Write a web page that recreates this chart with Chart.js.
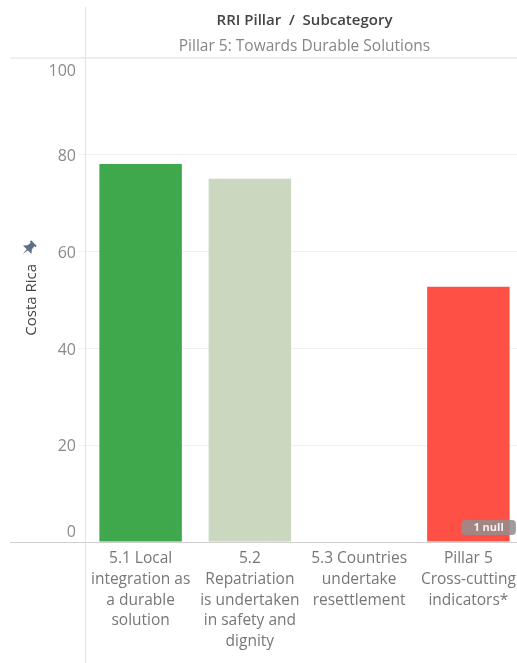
<!DOCTYPE html>
<html>
<head>
<meta charset="utf-8">
<script src="https://cdn.jsdelivr.net/npm/chart.js@4"></script>
<style>
  html, body { margin: 0; padding: 0; background: #fff; overflow: hidden; width: 517px; height: 663px; }
  #wrap { width: 517px; height: 663px; overflow: hidden; }
  canvas { display: block; }
</style>
</head>
<body>
<div id="wrap"><canvas id="chart" width="523" height="663" style="width:523px;height:663px"></canvas></div>
<script>
const FONT = '"Open Sans", sans-serif';

// Data
const categories = [
  ['5.1 Local', 'integration as', 'a durable', 'solution'],
  ['5.2', 'Repatriation', 'is undertaken', 'in safety and', 'dignity'],
  ['5.3 Countries', 'undertake', 'resettlement'],
  ['Pillar 5', 'Cross-cutting', 'indicators*']
];
const scores = [78, 75, null, 52.7];
const barColors = ['#3fa84c', '#cbd8c0', '#cccccc', '#ff5045'];
const yTicks = [0, 20, 40, 60, 80, 100];
const headerTitle = 'RRI Pillar  /  Subcategory';
const headerSubtitle = 'Pillar 5: Towards Durable Solutions';
const rowTitle = 'Costa Rica';
const nullNote = '1 null';

// Header text, frame rules, pin icon and the null badge
const decorations = {
  id: 'decorations',
  beforeDatasetsDraw(chart) {
    const { ctx, chartArea: a, width, height } = chart;
    ctx.save();
    ctx.lineWidth = 1;
    ctx.strokeStyle = '#e2e2e2';
    ctx.beginPath();
    ctx.moveTo(a.left - 0.5, 7);
    ctx.lineTo(a.left - 0.5, height);
    ctx.moveTo(10, a.top + 0.5);
    ctx.lineTo(width, a.top + 0.5);
    ctx.stroke();
    ctx.restore();
  },
  afterDatasetsDraw(chart) {
    const { ctx, chartArea: a, width, scales } = chart;
    ctx.save();
    // baseline
    ctx.strokeStyle = '#cfcfcf';
    ctx.lineWidth = 1;
    ctx.beginPath();
    ctx.moveTo(10, a.bottom + 0.5);
    ctx.lineTo(width, a.bottom + 0.5);
    ctx.stroke();

    // column header
    const cx = (a.left + a.right) / 2;
    ctx.textAlign = 'center';
    ctx.textBaseline = 'middle';
    ctx.fillStyle = '#444444';
    ctx.font = '600 15px ' + FONT;
    ctx.fillText(headerTitle, cx, 21);
    ctx.fillStyle = '#868686';
    ctx.font = '15.5px ' + FONT;
    ctx.fillText(headerSubtitle, cx, 46.5);

    // pin above the row title
    ctx.translate(29, 248);
    ctx.rotate(Math.PI / 4);
    ctx.fillStyle = '#5d7086';
    ctx.beginPath();
    ctx.rect(-4, -7, 8, 2);
    ctx.moveTo(-2.5, -5);
    ctx.lineTo(2.5, -5);
    ctx.lineTo(3, -1);
    ctx.lineTo(6, 2.5);
    ctx.lineTo(-6, 2.5);
    ctx.lineTo(-3, -1);
    ctx.closePath();
    ctx.moveTo(-0.8, 2.5);
    ctx.lineTo(0.8, 2.5);
    ctx.lineTo(0, 9);
    ctx.closePath();
    ctx.fill();
    ctx.setTransform(1, 0, 0, 1, 0, 0);

    // null badge in the plot's lower right corner
    const bx = scales.x.getPixelForValue(3) - 7;
    const bw = 54.5, bh = 15, by = a.bottom - 22;
    ctx.fillStyle = 'rgba(150,140,140,0.88)';
    ctx.beginPath();
    ctx.roundRect(bx, by, bw, bh, 4);
    ctx.fill();
    ctx.fillStyle = '#f4f1f1';
    ctx.font = '700 11px ' + FONT;
    ctx.fillText(nullNote, bx + bw / 2, by + bh / 2);
    ctx.restore();
  }
};

new Chart(document.getElementById('chart'), {
  type: 'bar',
  data: {
    labels: categories,
    datasets: [{
      data: scores,
      backgroundColor: barColors,
      borderWidth: 0,
      categoryPercentage: 1,
      barPercentage: 0.755
    }]
  },
  plugins: [decorations],
  options: {
    responsive: false,
    animation: false,
    layout: { padding: { top: 57.5 } },
    plugins: { legend: { display: false }, tooltip: { enabled: false } },
    scales: {
      x: {
        grid: { display: false },
        border: { display: false },
        ticks: {
          maxRotation: 0,
          minRotation: 0,
          autoSkip: false,
          padding: -2,
          color: '#777777',
          font: { family: FONT, size: 15.5, lineHeight: 1.345 }
        },
        afterFit(scale) { scale.height = 121; }
      },
      y: {
        min: 0,
        max: 100,
        afterBuildTicks(scale) { scale.ticks = yTicks.map(value => ({ value })); },
        grid: { color: '#f1f1f1', tickColor: '#f1f1f1', tickLength: 8 },
        border: { display: false },
        ticks: {
          padding: 2,
          labelOffset: 1.75,
          color: '#8a8a8a',
          font: { family: FONT, size: 16, lineHeight: 1.47 },
          // the end labels sit inside the axis range, so pad them with a blank line
          callback(value) {
            if (value === 100) return ['', '100'];
            if (value === 0) return ['0', ''];
            return String(value);
          }
        },
        title: {
          display: true,
          text: rowTitle,
          color: '#444444',
          font: { family: FONT, size: 15 },
          padding: { top: 23, bottom: 0 }
        },
        afterFit(scale) { scale.width = 86; }
      }
    }
  }
});
</script>
</body>
</html>
